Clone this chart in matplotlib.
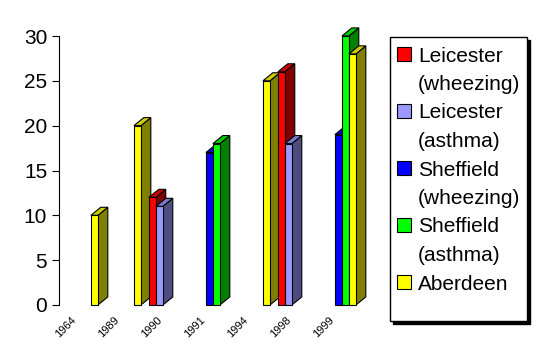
import numpy as np
import matplotlib
matplotlib.use("Agg")
import matplotlib.pyplot as plt
from matplotlib.patches import Polygon, Rectangle

plt.rcParams['font.family'] = ['Liberation Sans', 'DejaVu Sans']

years = ['1964', '1989', '1990', '1991', '1994', '1998', '1999']
series = ['Leicester\n(wheezing)', 'Leicester\n(asthma)', 'Sheffield\n(wheezing)',
          'Sheffield\n(asthma)', 'Aberdeen']
# values per series, one per year (None = no bar)
leic_wheeze = [None, None, 12, None, None, 26, None]
leic_asthma = [None, None, 11, None, None, 18, None]
shef_wheeze = [None, None, None, 17, None, None, 19]
shef_asthma = [None, None, None, 18, None, None, 30]
aberdeen = [10, 20, None, None, 25, None, 28]
values = [leic_wheeze, leic_asthma, shef_wheeze, shef_asthma, aberdeen]

front = ['#ff0000', '#9999ff', '#0000ff', '#00ff00', '#ffff00']
side = ['#800000', '#4d4d80', '#000080', '#008000', '#808000']
top = ['#cc0000', '#7a7acc', '#0000cc', '#00cc00', '#cccc00']

fig = plt.figure(figsize=(5.38, 3.59), dpi=100)
ax = fig.add_axes([59/538, 54/359, 301/538, 269/359])

bw = 0.163
gap = 0.09
dx = 0.23   # depth in x (data units)
dy = 0.9    # depth in y (data units)

for i in range(len(years)):
    for s in range(len(series)):
        v = values[s][i]
        if v is None:
            continue
        x0 = i + gap + s * bw
        x1 = x0 + bw
        ax.add_patch(Polygon([(x1, 0), (x1 + dx, dy), (x1 + dx, v + dy), (x1, v)],
                             facecolor=side[s], edgecolor='black', lw=0.8, clip_on=False))
        ax.add_patch(Polygon([(x0, v), (x0 + dx, v + dy), (x1 + dx, v + dy), (x1, v)],
                             facecolor=top[s], edgecolor='black', lw=0.8, clip_on=False))
        ax.add_patch(Rectangle((x0, 0), bw, v, facecolor=front[s],
                               edgecolor='black', lw=0.8, clip_on=False))

ax.set_xlim(0, 7)
ax.set_ylim(0, 30)
ax.set_yticks(np.arange(0, 31, 5))
ax.tick_params(axis='y', labelsize=15, length=5, width=0.8, direction='out')
ax.set_xticks(np.arange(len(years)) + 0.27)
ax.set_xticklabels(years, rotation=45, ha='right', fontsize=8, rotation_mode='anchor')
ax.tick_params(axis='x', length=0, pad=7)
for sp in ['top', 'right', 'bottom']:
    ax.spines[sp].set_visible(False)
ax.spines['left'].set_linewidth(0.8)

# legend box with black shadow
W, H = 538, 359
lx0, ly0, lx1, ly1 = 390, 37, 527, 321
fig.patches.append(Rectangle(((lx0 + 3) / W, (H - ly1 - 3) / H),
                             (lx1 - lx0) / W, (ly1 - ly0) / H, transform=fig.transFigure,
                             facecolor='black', edgecolor='black'))
fig.patches.append(Rectangle((lx0 / W, (H - ly1) / H), (lx1 - lx0) / W, (ly1 - ly0) / H,
                             transform=fig.transFigure, facecolor='white',
                             edgecolor='black', lw=1))
line_y = 54
step = 28.5
for s, name in enumerate(series):
    fig.patches.append(Rectangle((397 / W, (H - line_y - 7) / H), 14 / W, 14 / H,
                                 transform=fig.transFigure, facecolor=front[s],
                                 edgecolor='black', lw=0.8))
    for part in name.split('\n'):
        fig.text(418 / W, (H - line_y) / H, part, fontsize=15, va='center_baseline',
                 ha='left')
        line_y += step

fig.savefig('out.png', dpi=100)
